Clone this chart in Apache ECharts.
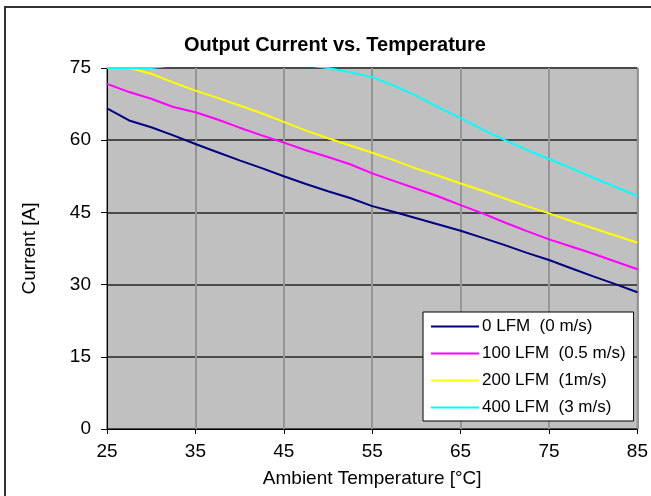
<!DOCTYPE html>
<html>
<head>
<meta charset="utf-8">
<script src="https://cdn.jsdelivr.net/npm/echarts@6/dist/echarts.min.js"></script>
<style>html,body{margin:0;padding:0;background:#fff;}#c{width:651px;height:496px;}</style>
</head>
<body>
<div id="c"></div>
<script>
var temps = [25, 27.5, 30, 32.5, 35, 37.5, 40, 42.5, 45, 47.5, 50, 52.5, 55, 57.5, 60, 62.5, 65, 67.5, 70, 72.5, 75, 77.5, 80, 82.5, 85];
var lfm0   = [66.6, 64.1, 62.7, 61.0, 59.2, 57.5, 55.8, 54.2, 52.5, 50.9, 49.4, 48.0, 46.3, 45.1, 43.8, 42.5, 41.2, 39.7, 38.2, 36.6, 35.1, 33.4, 31.7, 30.1, 28.4];
var lfm100 = [71.7, 70.0, 68.6, 66.9, 65.8, 64.3, 62.6, 61.0, 59.5, 57.9, 56.5, 55.0, 53.1, 51.5, 49.9, 48.3, 46.5, 44.8, 42.9, 41.1, 39.4, 37.9, 36.4, 34.8, 33.2];
var lfm200 = [75.0, 75.0, 73.8, 72.0, 70.3, 68.8, 67.2, 65.6, 63.8, 62.0, 60.4, 58.9, 57.4, 55.8, 54.1, 52.6, 51.0, 49.5, 47.9, 46.3, 44.8, 43.2, 41.7, 40.2, 38.7];
var lfm400 = [75.0, 75.0, 75.0, 75.6, 76.0, 76.3, 76.4, 76.3, 76.0, 75.6, 75.0, 74.1, 73.1, 71.3, 69.2, 66.8, 64.6, 62.2, 60.0, 58.0, 56.1, 54.2, 52.2, 50.3, 48.4];
var seriesNames = ['0 LFM  (0 m/s)', '100 LFM  (0.5 m/s)', '200 LFM  (1m/s)', '400 LFM  (3 m/s)'];
var seriesColors = ['#000080', '#FF00FF', '#FFFF00', '#00FFFF'];
var seriesData = [lfm0, lfm100, lfm200, lfm400];
var xTicks = [25, 35, 45, 55, 65, 75, 85];
var yTicks = [0, 15, 30, 45, 60, 75];

function pairs(ys) { return temps.map(function (t, i) { return [t, ys[i]]; }); }

var font = 'Liberation Sans, Arial, sans-serif';
var chart = echarts.init(document.getElementById('c'), null, {renderer: 'canvas'});
chart.setOption({
  animation: false,
  backgroundColor: '#fff',
  graphic: [{
    type: 'rect', silent: true, z: 100,
    shape: {x: 5, y: 7, width: 700, height: 600},
    style: {fill: 'none', stroke: '#333', lineWidth: 2}
  }],
  title: {
    text: 'Output Current vs. Temperature',
    left: 330, top: 30, textAlign: 'center',
    textStyle: {fontFamily: font, fontWeight: 'bold', fontSize: 20, color: '#000'}
  },
  grid: {
    left: 107, right: 11, top: 68, bottom: 67,
    show: true, backgroundColor: '#C0C0C0', borderColor: '#000', borderWidth: 1
  },
  legend: {
    orient: 'vertical', left: 423, top: 312,
    backgroundColor: '#fff', borderColor: '#000', borderWidth: 1,
    padding: [6, 8, 5, 8], itemGap: 10, itemWidth: 48, itemHeight: 2,
    icon: 'rect',
    textStyle: {fontFamily: font, fontSize: 17, color: '#000', padding: [0, 0, 0, -2]},
    data: seriesNames
  },
  xAxis: {
    type: 'value', min: 25, max: 85, interval: 10,
    name: 'Ambient Temperature [°C]', nameLocation: 'middle', nameGap: 40,
    nameTextStyle: {fontFamily: font, fontSize: 19, color: '#000'},
    axisLine: {show: true, lineStyle: {color: '#000', width: 1}},
    axisTick: {show: true, length: 5, lineStyle: {color: '#000'}},
    axisLabel: {fontFamily: font, fontSize: 19, color: '#000', margin: 13,
      formatter: function (v) { return xTicks.indexOf(v) >= 0 ? String(v) : ''; }},
    splitLine: {show: true, lineStyle: {color: '#969696', width: 2}}
  },
  yAxis: {
    type: 'value', min: 0, max: 75, interval: 15,
    name: 'Current [A]', nameLocation: 'middle', nameGap: 68, nameRotate: 90,
    nameTextStyle: {fontFamily: font, fontSize: 19, color: '#000'},
    axisLine: {show: true, lineStyle: {color: '#000', width: 1}},
    axisTick: {show: true, length: 6, lineStyle: {color: '#000'}},
    axisLabel: {fontFamily: font, fontSize: 19, color: '#000', margin: 16,
      formatter: function (v) { return yTicks.indexOf(v) >= 0 ? String(v) : ''; }},
    splitLine: {show: true, lineStyle: {color: '#4a4a4a', width: 2}}
  },
  series: seriesData.map(function (d, i) {
    return {
      type: 'line', name: seriesNames[i], data: pairs(d),
      symbol: 'none', clip: true,
      lineStyle: {color: seriesColors[i], width: 2},
      itemStyle: {color: seriesColors[i]}
    };
  })
});
</script>
</body>
</html>
